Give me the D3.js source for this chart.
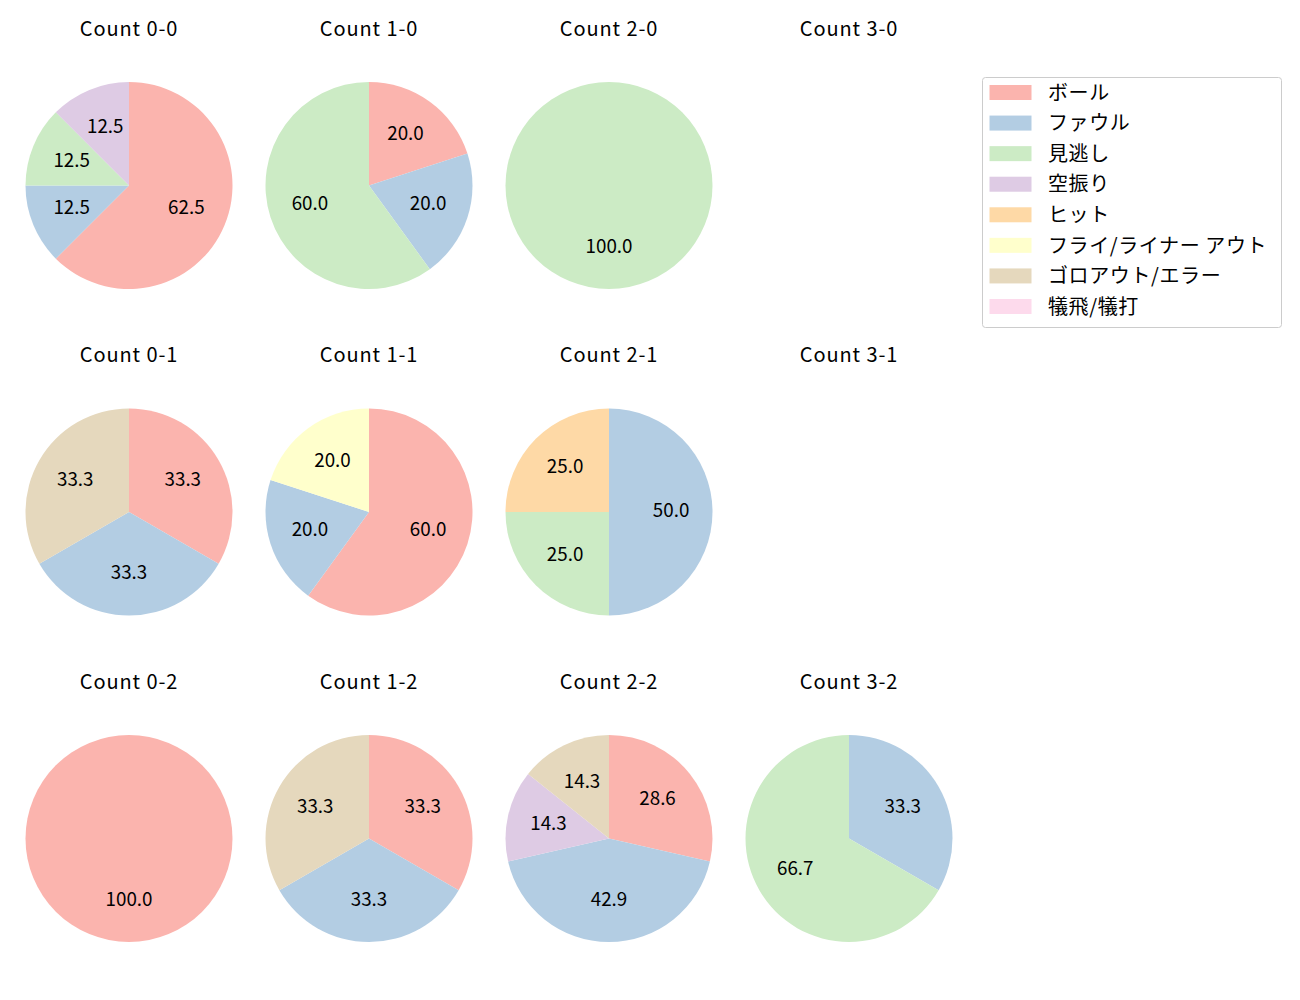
<!DOCTYPE html>
<html><head><meta charset="utf-8">
<script src="https://cdn.jsdelivr.net/npm/d3@7"></script>
<style>body{margin:0;background:#fff}svg{display:block}</style>
</head><body>
<svg id="chart" width="1300" height="1000"></svg>
<script>
const categories = ["ボール","ファウル","見逃し","空振り","ヒット","フライ/ライナー アウト","ゴロアウト/エラー","犠飛/犠打"];
const colors = ["#fbb4ae","#b3cde3","#ccebc5","#decbe4","#fed9a6","#ffffcc","#e5d8bd","#fddaec"];
const counts = ["0-0","1-0","2-0","3-0","0-1","1-1","2-1","3-1","0-2","1-2","2-2","3-2"];
// values per category order: ball, foul, miss, swing, hit, fly, goro, sac
const v00 = [5,1,1,1,0,0,0,0];
const v10 = [1,1,3,0,0,0,0,0];
const v20 = [0,0,1,0,0,0,0,0];
const v30 = [0,0,0,0,0,0,0,0];
const v01 = [1,1,0,0,0,0,1,0];
const v11 = [3,1,0,0,0,1,0,0];
const v21 = [0,2,1,0,1,0,0,0];
const v31 = [0,0,0,0,0,0,0,0];
const v02 = [1,0,0,0,0,0,0,0];
const v12 = [1,1,0,0,0,0,1,0];
const v22 = [2,3,0,1,0,0,1,0];
const v32 = [0,1,2,0,0,0,0,0];
const allValues = [v00,v10,v20,v30,v01,v11,v21,v31,v02,v12,v22,v32];

const font = "'Noto Sans CJK JP','Noto Sans',sans-serif";
const svg = d3.select("#chart");
const colX = d3.scalePoint().domain([0,1,2,3]).range([129,849]);
const rowY = d3.scalePoint().domain([0,1,2]).range([185.5,838.5]);
const R = 103.5;
const color = d3.scaleOrdinal().domain(categories).range(colors);
const pie = d3.pie().sort(null).value(d=>d.v).startAngle(0).endAngle(2*Math.PI);
const arc = d3.arc().innerRadius(0).outerRadius(R);
const labelArc = d3.arc().innerRadius(R*0.6).outerRadius(R*0.6);

counts.forEach((c,i)=>{
  const col = i%4, row = Math.floor(i/4);
  const cx = colX(col), cy = rowY(row);
  const g = svg.append("g").attr("transform",`translate(${cx},${cy})`);
  g.append("text").attr("x",0).attr("y",-150).attr("text-anchor","middle")
    .attr("font-family",font).attr("font-size",20).attr("letter-spacing","0.9px").attr("fill","#000")
    .text("Count "+c);
  const vals = allValues[i];
  const total = d3.sum(vals);
  if(total===0) return;
  const data = categories.map((k,j)=>({k, v: vals[j]})).filter(d=>d.v>0);
  const arcs = pie(data);
  g.selectAll("path").data(arcs).join("path").attr("d",arc).attr("fill",d=>color(d.data.k));
  g.selectAll("text.lbl").data(arcs).join("text").attr("class","lbl")
    .attr("transform",d=>{const p=labelArc.centroid(d);return `translate(${p[0]},${p[1]})`;})
    .attr("text-anchor","middle").attr("dy","0.27em")
    .attr("font-family",font).attr("font-size",18.8).attr("fill","#000")
    .text(d=>(d.data.v/total*100).toFixed(1));
});

// legend
const lg = svg.append("g").attr("transform","translate(982,77)");
lg.append("rect").attr("x",0.5).attr("y",0.5).attr("width",299).attr("height",250).attr("rx",3)
  .attr("fill","#fff").attr("stroke","#cccccc");
const ly = d3.scaleLinear().domain([0,7]).range([15.5,229.5]);
categories.forEach((k,j)=>{
  lg.append("rect").attr("x",7.5).attr("y",ly(j)-7.5).attr("width",42).attr("height",15).attr("fill",colors[j]);
  lg.append("text").attr("x",66).attr("y",ly(j)).attr("dy","0.36em").attr("letter-spacing","0.6px")
    .attr("font-family",font).attr("font-size",20).attr("fill","#000").text(k);
});
</script>
</body></html>
